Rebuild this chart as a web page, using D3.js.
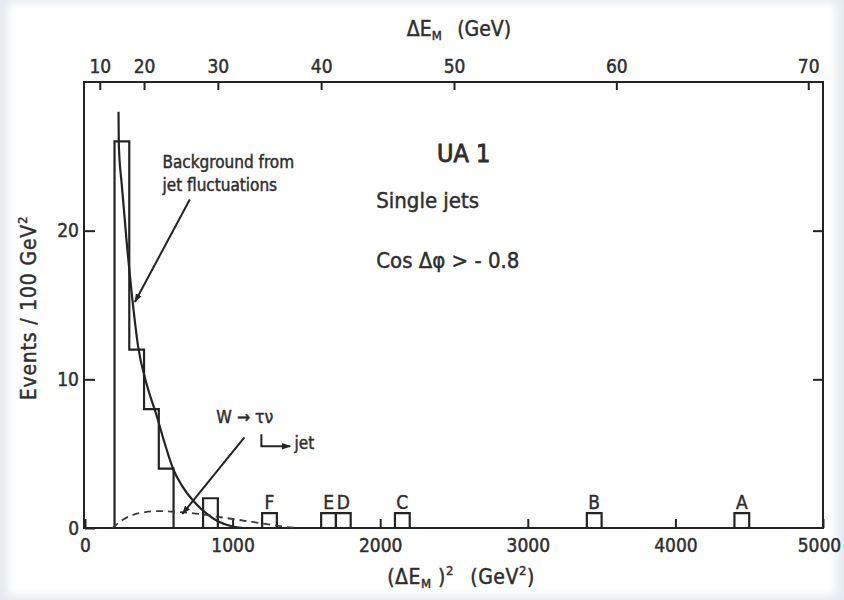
<!DOCTYPE html>
<html>
<head>
<meta charset="utf-8">
<script src="https://cdn.jsdelivr.net/npm/d3@7"></script>
<style>
body{margin:0;background:#e4ebf0;}
svg{display:block;}
text, tspan{font-family:"DejaVu Sans Condensed","DejaVu Sans",sans-serif;fill:#2e2e2e;}
.ink{stroke:#2e2e2e;stroke-width:0.45px;}
</style>
</head>
<body>
<svg id="chart" width="844" height="600"></svg>
<script>
// histogram of the jet background (bins of 100 GeV^2)
const bgBinStart = [200, 300, 400, 500, 800];
const bgBinCount = [26, 12, 8, 4, 2];
// single labelled events
const eventLabels = ['F', 'E', 'D', 'C', 'B', 'A'];
const eventBinStart = [1200, 1600, 1700, 2100, 3400, 4400];
const eventBinCount = [1, 1, 1, 1, 1, 1];
const binWidth = 100;

// solid curve: background from jet fluctuations
const bgCurveX = [227, 229, 250, 280, 322, 360, 420, 484, 540, 600, 660, 755, 820, 900, 1000, 1070];
const bgCurveY = [28, 25.8, 23, 19.5, 15.3, 12.2, 9.6, 7.6, 5.7, 3.9, 2.8, 1.6, 1.0, 0.45, 0.1, 0];
// dashed curve: W -> tau nu
const wCurveX = [186, 254, 369, 504, 640, 775, 910, 1046, 1181, 1364, 1452];
const wCurveY = [0, 0.54, 1.0, 1.14, 1.07, 0.94, 0.74, 0.54, 0.34, 0.07, 0];

// ticks
const xTicks = [0, 1000, 2000, 3000, 4000, 5000];
const yTicks = [0, 10, 20];
const yTicksRight = [10, 20];
const topTicks = [10, 20, 30, 40, 50, 60, 70];

const svg = d3.select('#chart');
const ink = '#232323';

// 紙張背景 (淡淡的邊)
const defs = svg.append('defs');
defs.append('filter').attr('id', 'soft')
    .append('feGaussianBlur').attr('stdDeviation', 4);
svg.append('rect').attr('x', 8).attr('y', 3).attr('width', 828).attr('height', 592)
   .attr('fill', '#fff').attr('filter', 'url(#soft)');

defs.append('marker').attr('id', 'arrow')
    .attr('viewBox', '0 0 10 10').attr('refX', 9).attr('refY', 5)
    .attr('markerWidth', 9).attr('markerHeight', 9)
    .attr('markerUnits', 'userSpaceOnUse').attr('orient', 'auto')
    .append('path').attr('d', 'M0,1.5 L10,5 L0,8.5 Z').attr('fill', ink);

// scales
const x = d3.scaleLinear([0, 5000], [85, 823]);
const y = d3.scaleLinear([0, 30], [528, 82]);
// top axis: ΔE in GeV -> (ΔE)^2
const xTop = d3.scalePow().exponent(2).domain([0, Math.sqrt(5000)]).range([85, 823]);

// axes
const bottomAxis = d3.axisBottom(x).tickValues(xTicks).tickFormat(d3.format('d'))
                     .tickSizeInner(-9).tickSizeOuter(0).tickPadding(11);
const leftAxis = d3.axisLeft(y).tickValues(yTicks).tickSizeInner(-10).tickSizeOuter(0).tickPadding(6);
const rightAxis = d3.axisRight(y).tickValues(yTicksRight).tickSizeInner(-10).tickSizeOuter(0).tickFormat('');
const topAxis = d3.axisTop(xTop).tickValues(topTicks).tickSizeInner(-8).tickSizeOuter(0).tickPadding(9);

function drawAxis(axis, tx, ty){
    const g = svg.append('g').attr('transform', `translate(${tx},${ty})`).call(axis);
    g.select('.domain').remove();
    g.selectAll('line').attr('stroke', ink).attr('stroke-width', 2);
    g.selectAll('text').attr('font-size', 19).attr('font-family', null)
     .attr('fill', '#2e2e2e').attr('class', 'ink');
    return g;
}
const bottomG = drawAxis(bottomAxis, 0, y(0));
// 最右邊的5000稍微往左，避免被切到
bottomG.selectAll('.tick text').filter(d => d === 5000).attr('dx', -4);
drawAxis(leftAxis, x(0), 0);
drawAxis(rightAxis, x(5000), 0);
drawAxis(topAxis, 0, y(30));

// frame
svg.append('rect')
   .attr('x', x(0) - 1).attr('y', y(30))
   .attr('width', x(5000) - x(0) + 1).attr('height', y(0) - y(30))
   .attr('fill', 'none').attr('stroke', ink).attr('stroke-width', 2);

// histogram as step outline for contiguous bins
const bins = bgBinStart.map((s, i) => ({start: s, count: bgBinCount[i]}));
const groups = [];
bins.forEach(b => {
    const last = groups[groups.length - 1];
    if (last && last[last.length - 1].start + binWidth === b.start) last.push(b);
    else groups.push([b]);
});
const stepLine = d3.line().x(d => x(d[0])).y(d => y(d[1])).curve(d3.curveStepAfter);
groups.forEach(g => {
    const pts = [[g[0].start, 0]];
    g.forEach(b => pts.push([b.start, b.count]));
    pts.push([g[g.length - 1].start + binWidth, 0]);
    svg.append('path').attr('d', stepLine(pts))
       .attr('fill', 'none').attr('stroke', ink).attr('stroke-width', 2.2);
});

// single events as boxes
const events = eventLabels.map((l, i) => ({label: l, start: eventBinStart[i], count: eventBinCount[i]}));
svg.append('g').selectAll('path').data(events).join('path')
   .attr('d', d => `M${x(d.start)},${y(0)}V${y(d.count)}H${x(d.start + binWidth)}V${y(0)}`)
   .attr('fill', 'none').attr('stroke', ink).attr('stroke-width', 2.2);
svg.append('g').selectAll('text').data(events).join('text')
   .attr('class', 'ink')
   .attr('x', d => x(d.start + binWidth / 2))
   .attr('y', d => y(d.count) - 4)
   .attr('text-anchor', 'middle').attr('font-size', 19)
   .text(d => d.label);

// curves
const curveLine = d3.line().x(d => x(d[0])).y(d => y(d[1])).curve(d3.curveMonotoneX);
svg.append('path').attr('d', curveLine(bgCurveX.map((v, i) => [v, bgCurveY[i]])))
   .attr('fill', 'none').attr('stroke', ink).attr('stroke-width', 2.2);
svg.append('path').attr('d', curveLine(wCurveX.map((v, i) => [v, wCurveY[i]])))
   .attr('fill', 'none').attr('stroke', '#3a3a3a').attr('stroke-width', 1.8)
   .attr('stroke-dasharray', '7,5');

// annotations
svg.append('line')
   .attr('x1', x(710)).attr('y1', y(22.1)).attr('x2', x(338)).attr('y2', y(15.2))
   .attr('stroke', ink).attr('stroke-width', 2).attr('marker-end', 'url(#arrow)');
const bgNote = svg.append('text').attr('font-size', 17).attr('class', 'ink');
bgNote.append('tspan').attr('x', x(525)).attr('y', y(24.2)).text('Background from');
bgNote.append('tspan').attr('x', x(525)).attr('y', y(22.7)).text('jet fluctuations');

svg.append('line')
   .attr('x1', x(1080)).attr('y1', y(6.1)).attr('x2', x(660)).attr('y2', y(0.95))
   .attr('stroke', ink).attr('stroke-width', 2).attr('marker-end', 'url(#arrow)');
svg.append('text').attr('x', x(890)).attr('y', y(7.05)).attr('font-size', 17.5)
   .attr('class', 'ink').text('W → τν');
svg.append('path')
   .attr('d', `M${x(1195)},${y(6.3)}V${y(5.5)}H${x(1390)}`)
   .attr('fill', 'none').attr('stroke', ink).attr('stroke-width', 2).attr('marker-end', 'url(#arrow)');
svg.append('text').attr('x', x(1420)).attr('y', y(5.3)).attr('font-size', 17)
   .attr('class', 'ink').text('jet');

svg.append('text').attr('x', x(2385)).attr('y', y(24.6)).attr('font-size', 25)
   .attr('class', 'ink').style('stroke-width', '0.9px').text('UA 1');
svg.append('text').attr('x', x(1973)).attr('y', y(21.5)).attr('font-size', 22)
   .attr('class', 'ink').text('Single jets');
svg.append('text').attr('x', x(1973)).attr('y', y(17.5)).attr('font-size', 22)
   .attr('class', 'ink').text('Cos Δφ > - 0.8');

// axis titles
const topTitle = svg.append('text').attr('x', 459).attr('y', 36).attr('text-anchor', 'middle')
   .attr('font-size', 21).attr('class', 'ink');
topTitle.append('tspan').text('ΔE');
topTitle.append('tspan').attr('font-size', 13).attr('dy', 4).text('M');
topTitle.append('tspan').attr('dy', -4).text('\u2002 (GeV)');

const botTitle = svg.append('text').attr('x', 461).attr('y', 584).attr('text-anchor', 'middle')
   .attr('font-size', 21).attr('letter-spacing', 0.5).attr('class', 'ink');
botTitle.append('tspan').text('(ΔE');
botTitle.append('tspan').attr('font-size', 13).attr('dy', 4).text('M');
botTitle.append('tspan').attr('dy', -4).text(' )');
botTitle.append('tspan').attr('font-size', 13).attr('dy', -9).text('2');
botTitle.append('tspan').attr('dy', 9).text('\u2002 (GeV');
botTitle.append('tspan').attr('font-size', 13).attr('dy', -9).text('2');
botTitle.append('tspan').attr('dy', 9).text(')');

const leftTitle = svg.append('text').attr('transform', 'translate(36,308) rotate(-90)')
   .attr('text-anchor', 'middle').attr('font-size', 21).attr('letter-spacing', 0.8).attr('class', 'ink');
leftTitle.append('tspan').text('Events / 100 GeV');
leftTitle.append('tspan').attr('font-size', 13).attr('dy', -9).text('2');
</script>
</body>
</html>
